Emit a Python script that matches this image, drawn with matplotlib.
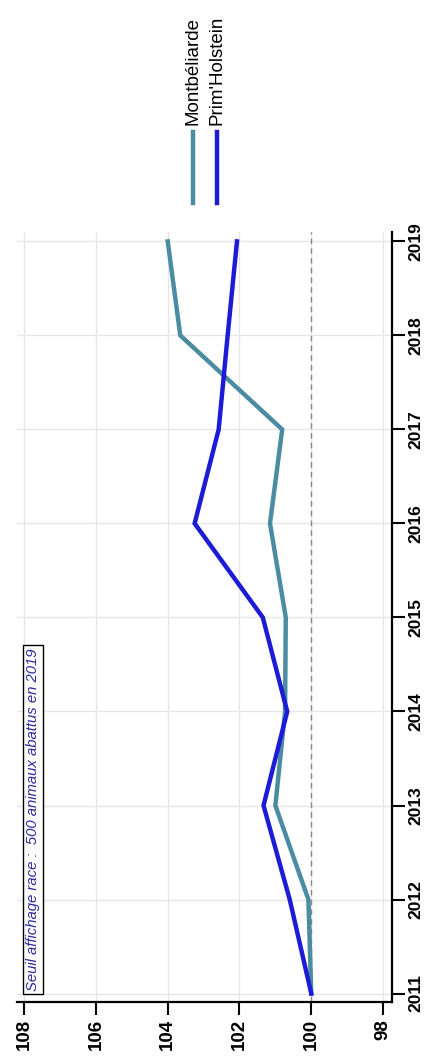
import matplotlib.pyplot as plt
from matplotlib.lines import Line2D

plt.rcParams['font.family'] = ['Liberation Sans', 'DejaVu Sans']

years = [2011, 2012, 2013, 2014, 2015, 2016, 2017, 2018, 2019]
montbeliarde = [100.0, 100.08, 101.0, 100.73, 100.71, 101.15, 100.81, 103.65, 104.0]
prim_holstein = [100.0, 100.6, 101.33, 100.67, 101.35, 103.25, 102.58, 102.33, 102.07]
value_ticks = [108, 106, 104, 102, 100, 98]
series_names = ["Montbéliarde", "Prim'Holstein"]
colors = ['#4b8ca3', '#1c1cd6']

fig = plt.figure(figsize=(4.37, 10.57), dpi=100)
# chart drawn rotated: values run horizontally (inverted), years vertically
ax = fig.add_axes([17/437, 1-1002/1057, 375/437, 770/1057])

ax.grid(True, color='#e6e6e6', lw=1)
ax.set_axisbelow(True)
ax.axvline(100, color='#888888', lw=1, ls=(0, (4, 3)))

for vals, c in zip([montbeliarde, prim_holstein], colors):
    ax.plot(vals, years, color=c, lw=3.2, solid_joinstyle='miter')

ax.set_xlim(108.2, 97.75)
ax.set_ylim(2010.91, 2019.1)
ax.set_xticks(value_ticks)
ax.set_xticklabels([str(v) for v in value_ticks], rotation=90, fontweight='bold', fontsize=13.5)
ax.set_yticks(years)
ax.yaxis.tick_right()
ax.set_yticklabels([str(y) for y in years], rotation=90, va='center', fontweight='bold', fontsize=12.5)
ax.tick_params(axis='both', length=9, width=1.5, color='black', pad=3)

for s in ['top', 'left']:
    ax.spines[s].set_visible(False)
for s in ['bottom', 'right']:
    ax.spines[s].set_linewidth(1.6)

ax.text(0.0427, 0.014, "Seuil affichage race :  500 animaux abattus en 2019",
        transform=ax.transAxes, rotation=90, ha='center', va='bottom',
        fontsize=10.7, style='italic', color='#2a2aa0',
        bbox=dict(boxstyle='square,pad=0.22', fc='white', ec='black', lw=1))

# legend drawn by hand, rotated
leg_x = [193/437, 217/437]
for name, c, x in zip(series_names, colors, leg_x):
    fig.add_artist(Line2D([x, x], [1-203/1057, 1-132/1057], color=c, lw=3.2,
                          transform=fig.transFigure))
    fig.text(x, 1-125/1057, name, rotation=90, ha='center', va='bottom', fontsize=13.5)

fig.savefig('out.png', dpi=100)
